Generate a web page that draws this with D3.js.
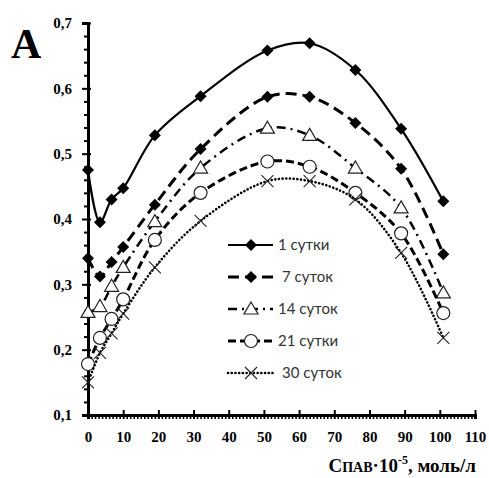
<!DOCTYPE html>
<html>
<head>
<meta charset="utf-8">
<script src="https://cdn.jsdelivr.net/npm/d3@7"></script>
<style>
  body { margin: 0; background: #fff; }
  svg { display: block; }
</style>
</head>
<body>
<div id="chart"></div>
<script>
// концентрация ПАВ, 10^-5 моль/л
const conc = [0, 3.4, 6.7, 10, 19, 32, 51, 63, 76, 89, 101];
const day1 = [0.475, 0.395, 0.43, 0.447, 0.528, 0.588, 0.658, 0.669, 0.628, 0.538, 0.427];
const day7 = [0.34, 0.312, 0.334, 0.357, 0.422, 0.507, 0.587, 0.587, 0.547, 0.477, 0.346];
const day14 = [0.257, 0.266, 0.297, 0.326, 0.396, 0.478, 0.539, 0.528, 0.478, 0.417, 0.287];
const day21 = [0.178, 0.218, 0.247, 0.277, 0.368, 0.44, 0.488, 0.48, 0.44, 0.378, 0.256];
const day30 = [0.15, 0.195, 0.225, 0.255, 0.326, 0.397, 0.458, 0.458, 0.43, 0.348, 0.218];
const labels = ["1 сутки", "7 суток", "14 суток", "21 сутки", "30 суток"];
const xTicks = d3.range(0, 111, 10);
const yTicks = [0.1, 0.2, 0.3, 0.4, 0.5, 0.6, 0.7];

const series = [
  {name: labels[0], values: day1, dash: null, width: 2.2, marker: "diamond"},
  {name: labels[1], values: day7, dash: "11,6", width: 3, marker: "diamond"},
  {name: labels[2], values: day14, dash: "9,5,2,5", width: 2.5, marker: "triangle"},
  {name: labels[3], values: day21, dash: "8,4", width: 3, marker: "circle"},
  {name: labels[4], values: day30, dash: "0.1,3.6", width: 2.6, marker: "cross"}
];

const W = 489, H = 478;
const svg = d3.select("#chart").append("svg").attr("width", W).attr("height", H);

const x = d3.scaleLinear().domain([0, 110]).range([88, 475]);
const y = d3.scaleLinear().domain([0.1, 0.7]).range([415, 23]);

// буква
svg.append("text").attr("x", 11).attr("y", 58)
  .attr("font-family", "Liberation Serif").attr("font-weight", "bold")
  .attr("font-size", 42).text("A");

// оси
const yAxisMajor = d3.axisLeft(y).tickValues(yTicks).tickSize(6);
const gy = svg.append("g").attr("transform", "translate(88,0)").call(yAxisMajor);
gy.selectAll(".tick text").text(d => d3.format(".1f")(d).replace(".", ","))
  .attr("x", -16);
const yMinor = svg.append("g").attr("transform", "translate(88,0)")
  .call(d3.axisLeft(y).tickValues(d3.range(0.12, 0.7, 0.02).filter(v => Math.abs(v * 10 - Math.round(v * 10)) > 0.01)).tickSize(4).tickFormat(""));

const xAxisMajor = d3.axisBottom(x).tickValues(xTicks).tickSize(4);
const gx = svg.append("g").attr("transform", "translate(0,415)").call(xAxisMajor);
gx.selectAll(".tick line").attr("y1", -5);
gx.selectAll(".tick text").attr("y", 16);
const xMinor = svg.append("g").attr("transform", "translate(0,415)")
  .call(d3.axisBottom(x).tickValues(d3.range(1, 110, 1).filter(v => v % 10 !== 0)).tickSize(4).tickFormat(""));

[gy, gx, yMinor, xMinor].forEach(g => {
  g.select(".domain").attr("stroke", "#000").attr("stroke-width", 3);
  g.selectAll(".tick line").attr("stroke", "#000").attr("stroke-width", 2);
});
xMinor.selectAll(".tick line").attr("stroke-width", 1.6);
[gy, gx].forEach(g => g.selectAll(".tick text")
  .attr("fill", "#000").attr("font-family", "Liberation Serif")
  .attr("font-weight", "bold").attr("font-size", 15));
gy.selectAll(".tick line").attr("x2", -6).attr("x1", 3);

// подпись оси
const title = svg.append("text").attr("x", 476).attr("y", 472).attr("text-anchor", "end")
  .attr("font-family", "Liberation Serif").attr("font-weight", "bold").attr("font-size", 19);
title.append("tspan").text("С");
title.append("tspan").attr("font-size", 14).text("ПАВ");
title.append("tspan").text("·10");
title.append("tspan").attr("font-size", 12).attr("dy", -8).text("-5");
title.append("tspan").attr("dy", 8).text(", моль/л");

// линии
const line = d3.line().x((d, i) => x(conc[i])).y(d => y(d)).curve(d3.curveCatmullRom.alpha(0.5));

function drawMarker(g, type, cx, cy) {
  if (type === "diamond") {
    g.append("path").attr("d", `M${cx},${cy - 6}L${cx + 6},${cy}L${cx},${cy + 6}L${cx - 6},${cy}Z`)
      .attr("fill", "#000");
  } else if (type === "triangle") {
    g.append("path").attr("d", `M${cx},${cy - 7}L${cx + 7},${cy + 5}L${cx - 7},${cy + 5}Z`)
      .attr("fill", "#fff").attr("stroke", "#222").attr("stroke-width", 1.2);
  } else if (type === "circle") {
    g.append("circle").attr("cx", cx).attr("cy", cy).attr("r", 6.5)
      .attr("fill", "#fff").attr("stroke", "#222").attr("stroke-width", 1.2);
  } else {
    g.append("path").attr("d", `M${cx - 6},${cy - 6}L${cx + 6},${cy + 6}M${cx - 6},${cy + 6}L${cx + 6},${cy - 6}`)
      .attr("stroke", "#222").attr("stroke-width", 1.1);
  }
}

series.forEach(s => {
  svg.append("path").datum(s.values).attr("d", line)
    .attr("fill", "none").attr("stroke", "#000")
    .attr("stroke-width", s.width)
    .attr("stroke-dasharray", s.dash)
    .attr("stroke-linecap", s.marker === "cross" ? "round" : "butt");
  const g = svg.append("g");
  s.values.forEach((v, i) => drawMarker(g, s.marker, x(conc[i]), y(v)));
});

// легенда
const legend = svg.append("g");
series.forEach((s, i) => {
  const ly = 245 + i * 32;
  legend.append("line").attr("x1", 228).attr("x2", 273).attr("y1", ly).attr("y2", ly)
    .attr("stroke", "#000").attr("stroke-width", s.width)
    .attr("stroke-dasharray", s.dash)
    .attr("stroke-linecap", s.marker === "cross" ? "round" : "butt");
  drawMarker(legend, s.marker, 251, ly);
  legend.append("text").attr("x", i === 1 || i === 4 ? 282 : 278).attr("y", ly + 5)
    .attr("font-family", "Lato").attr("font-size", 15).attr("fill", "#333")
    .text(s.name);
});
</script>
</body>
</html>
